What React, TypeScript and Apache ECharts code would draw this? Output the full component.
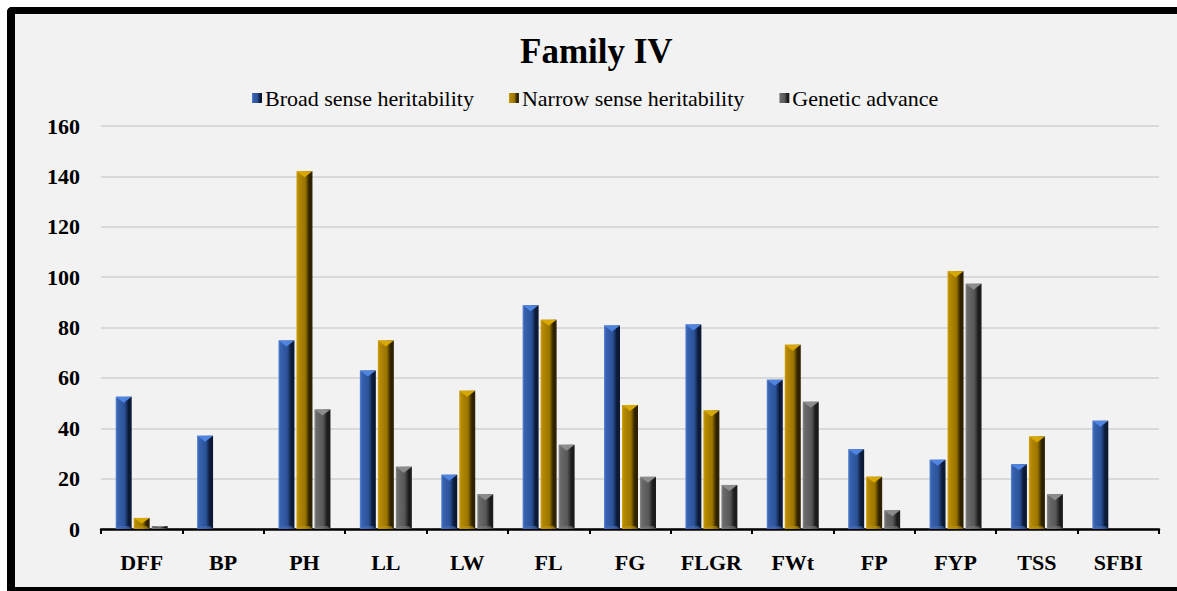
import React, { useEffect, useRef } from "react";
import * as echarts from "echarts";

const categories = ["DFF", "BP", "PH", "LL", "LW", "FL", "FG", "FLGR", "FWt", "FP", "FYP", "TSS", "SFBI"];
const broadSense = [52.5, 37, 74.8, 62.9, 21.5, 88.8, 80.8, 81.2, 59.3, 31.7, 27.5, 25.7, 43];
const narrowSense = [4.4, null, 142, 74.8, 54.9, 83.1, 49.2, 47, 73.2, 20.7, 102.3, 36.7, null];
const geneticAdvance = [1.2, null, 47.4, 24.7, 13.8, 33.4, 20.7, 17.5, 50.5, 7.4, 97.4, 13.8, null];
const seriesNames = ["Broad sense heritability", "Narrow sense heritability", "Genetic advance"];
const yTicks = [0, 20, 40, 60, 80, 100, 120, 140, 160];

const FONT = "'Liberation Serif', 'Times New Roman', 'DejaVu Serif', serif";

const palettes = [
  { hi: "#5b88d6", base: "#3862b0", mid: "#2b5298", dark: "#0c1a36", top: "#4f84e0", bot: "#4a70b8" },
  { hi: "#d4a20e", base: "#b58900", mid: "#9a7400", dark: "#2e2200", top: "#d8a800", bot: "#c09410" },
  { hi: "#8a8a8a", base: "#6a6a6a", mid: "#575757", dark: "#1c1c1c", top: "#8c8c8c", bot: "#7a7a7a" },
];

function bodyGradient(p: any) {
  return new echarts.graphic.LinearGradient(0, 0, 1, 0, [
    { offset: 0, color: p.hi },
    { offset: 0.12, color: p.base },
    { offset: 0.55, color: p.mid },
    { offset: 0.8, color: p.dark },
    { offset: 1, color: p.dark },
  ]);
}

export default function App() {
  const ref = useRef<HTMLDivElement>(null);
  useEffect(() => {
    if (!ref.current) return;
    const chart = echarts.init(ref.current, null, { renderer: "svg" });
    const dataSets = [broadSense, narrowSense, geneticAdvance];
    const barW = 16;
    const step = 18;

    const makeSeries = (idx: number) => ({
      type: "custom",
      name: seriesNames[idx],
      itemStyle: { color: bodyGradient(palettes[idx]) },
      encode: { x: 0, y: 1 },
      data: dataSets[idx].map((v, i) => (v == null ? [i, "-"] : [i, v])),
      renderItem: (params: any, api: any) => {
        const v = api.value(1);
        if (v === "-" || v == null || isNaN(v)) return null;
        const ci = api.value(0);
        const top = api.coord([ci, v]);
        const base = api.coord([ci, 0]);
        const cx = top[0] + (idx - 1) * step;
        const x0 = cx - barW / 2;
        const x1 = cx + barW / 2;
        const yT = top[1];
        const yB = base[1];
        const h = yB - yT;
        const tri = Math.min(6, h / 2);
        const p = palettes[idx];
        return {
          type: "group",
          children: [
            {
              type: "rect",
              shape: { x: x0, y: yT, width: barW, height: h },
              style: { fill: bodyGradient(p) },
            },
            {
              type: "polygon",
              shape: { points: [[x0, yT], [x1, yT], [cx, yT + tri]] },
              style: { fill: p.top },
            },
            {
              type: "polygon",
              shape: { points: [[x0, yB], [x1, yB], [x1 - 3, yB - Math.min(3, h / 3)], [x0 + 3, yB - Math.min(3, h / 3)]] },
              style: { fill: p.bot, opacity: 0.6 },
            },
          ],
        };
      },
    });

    chart.setOption({
      animation: false,
      backgroundColor: "transparent",
      textStyle: { fontFamily: FONT },
      title: {
        text: "Family IV",
        left: 520,
        top: 34,
        padding: 0,
        textStyle: { fontFamily: FONT, fontWeight: "bold", fontSize: 35, color: "#000" },
      },
      legend: {
        top: 82,
        left: 247,
        itemWidth: 10,
        itemHeight: 10,
        itemGap: 35,
        icon: "rect",
        data: seriesNames,
        textStyle: { fontFamily: FONT, fontSize: 22, color: "#000", padding: [0, 0, 0, -2] },
      },
      grid: { left: 101, right: 18, top: 126, bottom: 62, containLabel: false },
      xAxis: {
        type: "category",
        data: categories,
        axisLine: { lineStyle: { color: "#000", width: 2.5 } },
        axisTick: { show: true, length: 5, lineStyle: { color: "#000", width: 2 } },
        axisLabel: { margin: 22, fontFamily: FONT, fontWeight: "bold", fontSize: 22, color: "#000" },
        splitLine: { show: false },
      },
      yAxis: {
        type: "value",
        min: yTicks[0],
        max: yTicks[yTicks.length - 1],
        interval: 20,
        axisLine: { show: false },
        axisTick: { show: false },
        axisLabel: { margin: 21, fontFamily: FONT, fontWeight: "bold", fontSize: 22, color: "#000" },
        splitLine: { lineStyle: { color: "#d9d9d9", width: 2 } },
      },
      series: [makeSeries(0), makeSeries(1), makeSeries(2)],
    });
    return () => chart.dispose();
  }, []);

  return (
    <div style={{ position: "fixed", left: 0, top: 0, width: 1177, height: 591, overflow: "hidden", background: "#fff" }}>
      <div
        style={{
          position: "absolute",
          left: 7,
          top: 7,
          width: 1170,
          height: 587,
          boxSizing: "border-box",
          borderStyle: "solid",
          borderColor: "#000",
          borderTopWidth: 7,
          borderLeftWidth: 8,
          borderBottomWidth: 7,
          borderRightWidth: 0,
          borderTopLeftRadius: 5,
          borderBottomLeftRadius: 5,
          background: "#f2f2f2",
        }}
      />
      <div ref={ref} style={{ position: "absolute", left: 0, top: 0, width: 1177, height: 591 }} />
    </div>
  );
}
